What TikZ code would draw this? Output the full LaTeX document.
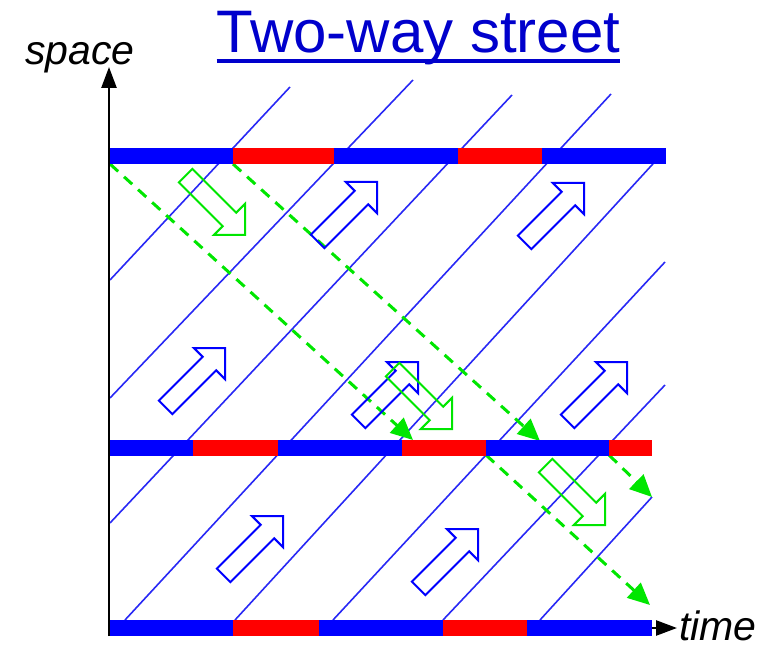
\documentclass[tikz,border=0pt]{standalone}
\usepackage{fontspec}
\setmainfont{Liberation Sans}
\usetikzlibrary{arrows.meta}

\definecolor{titleblue}{RGB}{0,0,204}
\definecolor{barblue}{RGB}{0,0,255}
\definecolor{barred}{RGB}{255,0,0}
\definecolor{pathblue}{RGB}{40,40,245}
\definecolor{wavegreen}{RGB}{0,230,0}

\begin{document}
\begin{tikzpicture}[x=1pt,y=-1pt,
  flowline/.style={pathblue, line width=1.6pt},
  counterflow/.style={wavegreen, line width=3pt, dash pattern=on 11pt off 8pt,
    -{Triangle[length=22pt,width=20pt]}},
  bluesign/.style={barblue, line width=2pt},
  greensign/.style={wavegreen, line width=2pt},
  axisline/.style={black, line width=2.5pt, -{Triangle[length=21pt,width=15pt]}},
  axislabel/.style={font=\fontsize{41}{41}\selectfont\itshape, inner sep=0pt},
]
\useasboundingbox (0,0) rectangle (771,647);

% eastbound vehicle trajectories
\foreach \sx/\sy/\ex/\ey in {110/280/290/87, 110/398/413/80, 110/523/512/95,
    125/620/611/94, 235/620/662/154, 333/620/665/262, 443/620/665/385, 540/620/652/497}
  \draw[flowline] (\sx,\sy) -- (\ex,\ey);

% westbound green-wave progressions
\coordinate (a0) at (110,164); \coordinate (a1) at (413,440);
\coordinate (b0) at (233,164); \coordinate (b1) at (540,441);
\coordinate (c0) at (486,455); \coordinate (c1) at (650,605);
\coordinate (d0) at (609,455); \coordinate (d1) at (652,497);
\draw[counterflow] (a0) -- (a1);
\draw[counterflow] (b0) -- (b1);
\draw[counterflow] (c0) -- (c1);
\draw[counterflow] (d0) -- (d1);

% hollow direction arrows
\def\hollowpath{(0,0) -- (-22,-22) -- (-22,-9.5) -- (-84,-9.5) -- (-84,9.5) -- (-22,9.5) -- (-22,22) -- cycle}
\foreach \p in {(377,182),(584,183),(225,348),(418,362),(627,362),(283,516),(478,529)}
  \draw[bluesign, shift={\p}, rotate=45] \hollowpath;
\foreach \p in {(245,235),(452,429),(605,525)}
  \draw[greensign, shift={\p}, rotate=-45] \hollowpath;

% time axis (runs under the lowest bar)
\coordinate (xstart) at (109,628);
\coordinate (xtip) at (677,628);
\draw[axisline] (xstart) -- (xtip);

% signal timing bars (intersections)
\foreach \a/\b/\c in {110/233/barblue, 233/334/barred, 334/458/barblue, 458/542/barred, 542/666/barblue}
  \fill[\c] (\a,148) rectangle (\b,164);
\foreach \a/\b/\c in {110/193/barblue, 193/278/barred, 278/402/barblue, 402/486/barred, 486/609/barblue, 609/652/barred}
  \fill[\c] (\a,439.5) rectangle (\b,455.5);
\foreach \a/\b/\c in {110/233/barblue, 233/319/barred, 319/443/barblue, 443/527/barred, 527/652/barblue}
  \fill[\c] (\a,620) rectangle (\b,636);

% space axis
\coordinate (origin) at (109,636);
\coordinate (ytip) at (109,67);
\draw[axisline] (origin) -- (ytip);

\node[axislabel, anchor=base] (spacelabel) at (80,65) {space};
\node[axislabel, anchor=base west] (timelabel) at (679,640) {time};

% title
\node[font=\fontsize{60}{60}\selectfont, text=titleblue, inner sep=0pt, anchor=base] (title) at (418.5,53) {Two-way street};
\draw[titleblue, line width=3.2pt] ([yshift=-8pt]title.base west) -- ([yshift=-8pt]title.base east);
\end{tikzpicture}
\end{document}
